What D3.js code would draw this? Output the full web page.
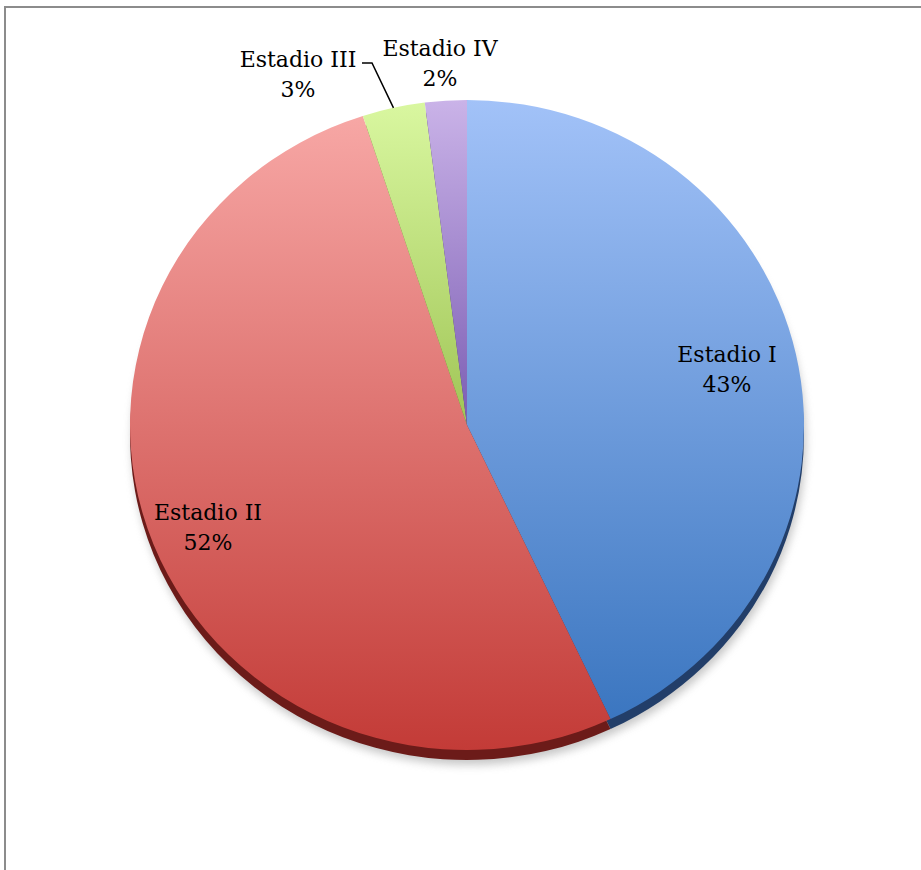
<!DOCTYPE html>
<html>
<head>
<meta charset="utf-8">
<script src="https://cdn.jsdelivr.net/npm/d3@7"></script>
<style>
  body { margin: 0; background: #fff; }
  svg { display: block; }
  text { font-family: "DejaVu Serif", "Liberation Serif", serif; font-size: 22px; fill: #000; }
</style>
</head>
<body>
<script>
// chart data
var stages = ["Estadio I", "Estadio II", "Estadio III", "Estadio IV"];
var shares = [43, 52, 3, 2];
var pctLabels = ["43%", "52%", "3%", "2%"];
var topColors = ["#a2c2f8", "#f7a7a5", "#d9f7a0", "#cab3e8"];
var bottomColors = ["#3b76c0", "#c33b37", "#a0c556", "#7b5db3"];
var sideColors = ["#223e69", "#6c1b19", "#5d7a2a", "#45306e"];

var width = 921, height = 870;
var cx = 467, cy = 425, rx = 337, ry = 325, depth = 10;

var svg = d3.select("body").append("svg")
    .attr("width", width)
    .attr("height", height);

// frame
svg.append("rect")
    .attr("x", 5).attr("y", 7)
    .attr("width", 1000).attr("height", 1000)
    .attr("fill", "none")
    .attr("stroke", "#8c8c8c")
    .attr("stroke-width", 2);

var defs = svg.append("defs");
defs.append("filter").attr("id", "blur")
    .attr("x", "-20%").attr("y", "-20%").attr("width", "140%").attr("height", "140%")
    .append("feGaussianBlur").attr("stdDeviation", 4);

stages.forEach(function(s, i) {
    var g = defs.append("linearGradient")
        .attr("id", "grad" + i)
        .attr("x1", 0).attr("y1", 0).attr("x2", 0).attr("y2", 1);
    g.append("stop").attr("offset", "0%").attr("stop-color", topColors[i]);
    g.append("stop").attr("offset", "100%").attr("stop-color", bottomColors[i]);
});

var pie = d3.pie().sort(null).value(function(d) { return d; });
var arcs = pie(shares);
var arc = d3.arc().innerRadius(0).outerRadius(rx);
var k = ry / rx;

// shadow
svg.append("ellipse")
    .attr("cx", cx + 2).attr("cy", cy + depth + 5)
    .attr("rx", rx).attr("ry", ry)
    .attr("fill", "#9a9a9a")
    .attr("opacity", 0.55)
    .attr("filter", "url(#blur)");

// side (depth)
var sideG = svg.append("g")
    .attr("transform", "translate(" + cx + "," + (cy + depth) + ") scale(1," + k + ")");
sideG.selectAll("path").data(arcs).enter()
    .append("path")
    .attr("d", arc)
    .attr("fill", function(d, i) { return sideColors[i]; });

// top face
var faceG = svg.append("g")
    .attr("transform", "translate(" + cx + "," + cy + ") scale(1," + k + ")");
faceG.selectAll("path").data(arcs).enter()
    .append("path")
    .attr("d", arc)
    .attr("fill", function(d, i) { return "url(#grad" + i + ")"; });

// labels (manual placement, like the original)
var labelPos = [[727, 362], [208, 520], [298, 67], [440, 56]];
stages.forEach(function(s, i) {
    var t = svg.append("text")
        .attr("text-anchor", "middle")
        .attr("x", labelPos[i][0])
        .attr("y", labelPos[i][1]);
    t.append("tspan").attr("x", labelPos[i][0]).text(s);
    t.append("tspan").attr("x", labelPos[i][0]).attr("dy", 30).text(pctLabels[i]);
});

// leader line for Estadio III
var a3 = arcs[2];
var mid3 = (a3.startAngle + a3.endAngle) / 2;
var ex = cx + Math.sin(mid3) * rx, ey = cy - Math.cos(mid3) * ry;
svg.append("path")
    .attr("d", d3.line()([[362, 63], [372, 63], [ex, ey]]))
    .attr("fill", "none")
    .attr("stroke", "#000")
    .attr("stroke-width", 1.5);
</script>
</body>
</html>
